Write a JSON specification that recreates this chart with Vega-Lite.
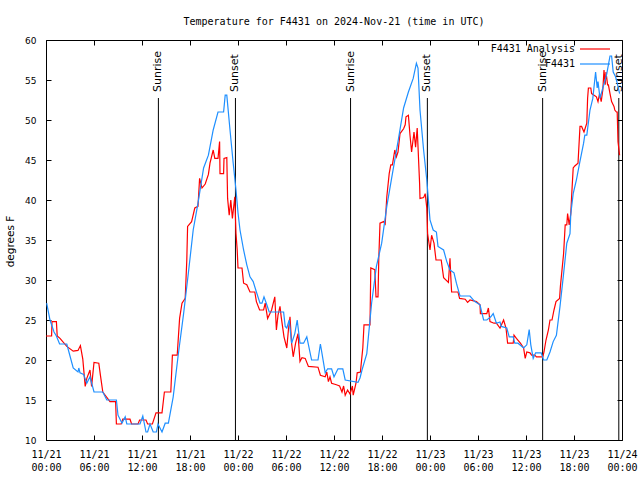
{
  "$schema": "https://vega.github.io/schema/vega-lite/v6.json",
  "width": 576,
  "height": 400,
  "autosize": "none",
  "padding": {"left": 46, "top": 40, "right": 18, "bottom": 40},
  "background": "white",
  "title": {"text": "Temperature for F4431 on 2024-Nov-21 (time in UTC)", "font": "DejaVu Sans Mono", "fontSize": 10, "fontWeight": "normal", "color": "black", "anchor": "middle", "offset": 9},
  "config": {
    "view": {"stroke": "black", "strokeWidth": 1},
    "axis": {"domain": false, "grid": false, "tickColor": "black", "tickWidth": 1, "tickSize": -5, "labelColor": "black", "titleColor": "black"}
  },
  "datasets": {
    "sun": [
      {"h": 14.05, "e": "Sunrise"}, {"h": 23.68, "e": "Sunset"},
      {"h": 38.07, "e": "Sunrise"}, {"h": 47.67, "e": "Sunset"},
      {"h": 62.08, "e": "Sunrise"}, {"h": 71.6, "e": "Sunset"}
    ],
    "analysis": [
      {"h":0.0,"t":23},{"h":0.7,"t":23},{"h":0.75,"t":24.8},{"h":1.3,"t":24.8},{"h":1.4,"t":23},{"h":1.75,"t":22.7},{"h":2.6,"t":21.7},{"h":3.4,"t":21.1},{"h":4.0,"t":21.2},{"h":4.3,"t":21.8},{"h":4.6,"t":20.1},{"h":4.9,"t":16.7},{"h":5.1,"t":17.7},{"h":5.5,"t":18.75},{"h":5.7,"t":16.7},{"h":6.0,"t":19.7},{"h":6.6,"t":19.6},{"h":6.8,"t":18.1},{"h":7.1,"t":16},{"h":8.0,"t":14.8},{"h":8.7,"t":14.8},{"h":8.8,"t":12},{"h":9.4,"t":12},{"h":9.6,"t":12.6},{"h":10.5,"t":12.6},{"h":10.7,"t":12},{"h":11.5,"t":12},{"h":11.7,"t":12.5},{"h":12.5,"t":12.5},{"h":12.7,"t":12},{"h":13.3,"t":12},{"h":13.75,"t":13.4},{"h":14.5,"t":13.4},{"h":14.8,"t":16},{"h":15.6,"t":16},{"h":15.8,"t":20.6},{"h":16.4,"t":20.6},{"h":16.7,"t":25.2},{"h":17.0,"t":27.1},{"h":17.4,"t":27.7},{"h":17.6,"t":32.5},{"h":17.7,"t":36.7},{"h":18.2,"t":37.3},{"h":18.6,"t":39},{"h":19.0,"t":39.2},{"h":19.2,"t":42.7},{"h":19.5,"t":41.5},{"h":19.9,"t":42},{"h":20.3,"t":43.2},{"h":20.5,"t":44.6},{"h":20.9,"t":46.25},{"h":21.1,"t":45.2},{"h":21.5,"t":45.2},{"h":21.7,"t":47.3},{"h":21.75,"t":43.3},{"h":22.2,"t":43.3},{"h":22.25,"t":45.2},{"h":22.6,"t":45.3},{"h":22.7,"t":40.2},{"h":22.9,"t":38.1},{"h":23.1,"t":40},{"h":23.3,"t":37.7},{"h":23.6,"t":40.4},{"h":23.75,"t":35.8},{"h":23.9,"t":33.75},{"h":24.0,"t":31.5},{"h":24.5,"t":31.5},{"h":24.7,"t":29.6},{"h":25.1,"t":29.4},{"h":25.5,"t":28.5},{"h":26.1,"t":28.5},{"h":26.3,"t":27.3},{"h":26.7,"t":26.25},{"h":27.2,"t":26.25},{"h":27.4,"t":27.1},{"h":27.7,"t":25.2},{"h":28.2,"t":26.25},{"h":28.6,"t":27.9},{"h":28.8,"t":23.75},{"h":29.0,"t":25.6},{"h":29.25,"t":26.7},{"h":29.4,"t":25.4},{"h":29.75,"t":22.9},{"h":30.1,"t":21.5},{"h":30.3,"t":23.75},{"h":30.5,"t":25.4},{"h":30.7,"t":22.1},{"h":30.9,"t":20.4},{"h":31.2,"t":22.1},{"h":31.5,"t":23.3},{"h":31.75,"t":19.8},{"h":32.0,"t":20.3},{"h":32.4,"t":20.2},{"h":32.8,"t":19.2},{"h":34.0,"t":19.1},{"h":34.3,"t":18.1},{"h":34.9,"t":17.9},{"h":35.1,"t":18.5},{"h":35.3,"t":17.3},{"h":35.5,"t":17.9},{"h":35.7,"t":17.1},{"h":36.3,"t":16.9},{"h":36.7,"t":16.75},{"h":37.0,"t":16},{"h":37.2,"t":16.75},{"h":37.4,"t":15.6},{"h":37.7,"t":16.25},{"h":38.0,"t":15.75},{"h":38.3,"t":16.75},{"h":38.4,"t":15.6},{"h":38.75,"t":17.1},{"h":38.9,"t":18.4},{"h":39.3,"t":18.5},{"h":39.6,"t":21.5},{"h":39.75,"t":24.4},{"h":40.5,"t":24.4},{"h":40.6,"t":31.5},{"h":41.1,"t":31.3},{"h":41.25,"t":27.9},{"h":41.5,"t":27.9},{"h":41.6,"t":32.7},{"h":41.75,"t":37.1},{"h":42.2,"t":37.3},{"h":42.4,"t":37},{"h":42.6,"t":40.4},{"h":42.9,"t":43.3},{"h":43.1,"t":44.4},{"h":43.3,"t":44.4},{"h":43.6,"t":46.25},{"h":43.8,"t":45.4},{"h":44.0,"t":46},{"h":44.25,"t":48.3},{"h":44.7,"t":48.9},{"h":44.9,"t":49.4},{"h":45.0,"t":50.4},{"h":45.3,"t":50.6},{"h":45.5,"t":48.1},{"h":45.7,"t":46},{"h":46.0,"t":48.5},{"h":46.2,"t":46.6},{"h":46.4,"t":49},{"h":46.7,"t":42.1},{"h":46.75,"t":40.2},{"h":47.2,"t":40.3},{"h":47.4,"t":40.8},{"h":47.6,"t":39},{"h":47.7,"t":35.8},{"h":48.0,"t":33.75},{"h":48.2,"t":35.6},{"h":48.5,"t":34.6},{"h":48.75,"t":32.5},{"h":49.4,"t":32.5},{"h":49.7,"t":30.3},{"h":50.3,"t":29.7},{"h":50.5,"t":32.7},{"h":50.6,"t":30.4},{"h":50.7,"t":28.5},{"h":51.5,"t":28.5},{"h":51.7,"t":27.7},{"h":52.4,"t":27.6},{"h":52.7,"t":27.2},{"h":53.0,"t":27.5},{"h":53.8,"t":27.3},{"h":54.25,"t":26.9},{"h":54.3,"t":25.8},{"h":55.1,"t":25.8},{"h":55.3,"t":26.5},{"h":55.5,"t":24.8},{"h":56.0,"t":24.6},{"h":56.3,"t":24.6},{"h":56.75,"t":24},{"h":57.2,"t":25},{"h":57.5,"t":24},{"h":57.7,"t":22.1},{"h":58.4,"t":22.1},{"h":58.5,"t":23.1},{"h":58.8,"t":22.7},{"h":59.3,"t":22.1},{"h":59.7,"t":21.5},{"h":59.9,"t":20.2},{"h":60.1,"t":21},{"h":60.5,"t":20.9},{"h":60.7,"t":20.6},{"h":61.1,"t":20.6},{"h":61.3,"t":20.4},{"h":62.1,"t":20.4},{"h":62.25,"t":21},{"h":62.5,"t":22.5},{"h":62.8,"t":23.75},{"h":63.0,"t":25},{"h":63.25,"t":25},{"h":63.5,"t":26.25},{"h":63.75,"t":27.3},{"h":64.2,"t":27.7},{"h":64.3,"t":29.2},{"h":64.7,"t":33.3},{"h":64.9,"t":36.9},{"h":65.1,"t":36.9},{"h":65.2,"t":38.3},{"h":65.4,"t":36.9},{"h":65.6,"t":38.3},{"h":65.7,"t":40.4},{"h":65.9,"t":44},{"h":66.1,"t":44.25},{"h":66.5,"t":44.6},{"h":66.75,"t":49.2},{"h":66.95,"t":49.2},{"h":67.25,"t":48.5},{"h":67.6,"t":49.6},{"h":67.7,"t":52.7},{"h":67.8,"t":54},{"h":68.1,"t":54},{"h":68.2,"t":53.3},{"h":68.8,"t":52.9},{"h":69.0,"t":52.3},{"h":69.2,"t":53.3},{"h":69.4,"t":52.3},{"h":69.6,"t":53.75},{"h":69.75,"t":56.25},{"h":69.9,"t":54.4},{"h":70.0,"t":56},{"h":70.2,"t":54.4},{"h":70.3,"t":54.4},{"h":70.5,"t":53.3},{"h":70.7,"t":52.3},{"h":71.0,"t":51.7},{"h":71.1,"t":51.25},{"h":71.3,"t":51},{"h":71.4,"t":51},{"h":71.5,"t":47.3},{"h":71.7,"t":45.6}
    ],
    "obs": [
      {"h":0.08,"t":27.1},{"h":0.5,"t":25},{"h":1.0,"t":23.5},{"h":1.3,"t":23},{"h":1.7,"t":22},{"h":2.6,"t":22},{"h":3.0,"t":20.5},{"h":3.4,"t":19},{"h":4.0,"t":18.5},{"h":4.1,"t":19},{"h":4.25,"t":18.4},{"h":4.7,"t":18.2},{"h":5.1,"t":17.1},{"h":5.5,"t":17.9},{"h":6.0,"t":16},{"h":7.1,"t":16},{"h":7.6,"t":15},{"h":8.8,"t":15},{"h":9.0,"t":13.1},{"h":9.5,"t":12.1},{"h":9.9,"t":12.9},{"h":10.1,"t":12},{"h":11.75,"t":12},{"h":12.1,"t":13},{"h":12.5,"t":11},{"h":12.7,"t":11},{"h":13.0,"t":12},{"h":13.4,"t":11},{"h":13.8,"t":11},{"h":14.0,"t":12},{"h":14.5,"t":11},{"h":14.9,"t":12.1},{"h":15.3,"t":12.1},{"h":15.9,"t":15.4},{"h":16.5,"t":20.4},{"h":17.2,"t":25.8},{"h":17.8,"t":30.9},{"h":18.4,"t":36.25},{"h":19.0,"t":39.6},{"h":19.7,"t":44},{"h":20.3,"t":45.6},{"h":20.9,"t":48.75},{"h":21.5,"t":51},{"h":22.2,"t":51},{"h":22.4,"t":53.1},{"h":22.6,"t":53.1},{"h":23.0,"t":48.75},{"h":23.4,"t":44.6},{"h":23.75,"t":41.25},{"h":24.0,"t":38.4},{"h":24.25,"t":36.25},{"h":24.7,"t":33.75},{"h":25.1,"t":31.9},{"h":25.5,"t":30.4},{"h":25.9,"t":29.8},{"h":26.3,"t":28.5},{"h":26.75,"t":27.1},{"h":27.0,"t":27.1},{"h":27.25,"t":27.9},{"h":27.6,"t":26.9},{"h":27.9,"t":26},{"h":29.7,"t":26},{"h":29.9,"t":24.2},{"h":30.1,"t":24},{"h":30.4,"t":25},{"h":30.7,"t":22.1},{"h":31.1,"t":23.3},{"h":31.4,"t":25},{"h":31.75,"t":22.1},{"h":32.2,"t":22.1},{"h":32.6,"t":22.9},{"h":33.2,"t":20},{"h":34.0,"t":20},{"h":34.3,"t":22},{"h":34.7,"t":19.6},{"h":34.9,"t":18.4},{"h":35.2,"t":18.9},{"h":35.7,"t":18.9},{"h":36.0,"t":17.9},{"h":36.5,"t":18.9},{"h":37.1,"t":18.9},{"h":37.4,"t":17.5},{"h":39.0,"t":17.2},{"h":39.25,"t":17.75},{"h":39.5,"t":18.75},{"h":40.1,"t":20.8},{"h":40.7,"t":27.1},{"h":41.3,"t":31.7},{"h":41.96,"t":34.6},{"h":42.6,"t":39.2},{"h":43.2,"t":42.7},{"h":44.0,"t":47.3},{"h":44.7,"t":51.5},{"h":45.3,"t":53.5},{"h":45.9,"t":55.2},{"h":46.3,"t":57.1},{"h":46.5,"t":56.5},{"h":46.75,"t":51.25},{"h":47.2,"t":46.25},{"h":47.6,"t":42.5},{"h":48.0,"t":37.5},{"h":48.4,"t":36.25},{"h":48.8,"t":36},{"h":49.0,"t":34.2},{"h":49.7,"t":33.75},{"h":50.1,"t":32.3},{"h":50.5,"t":31.25},{"h":51.0,"t":30.9},{"h":51.3,"t":29.6},{"h":51.75,"t":28},{"h":53.0,"t":28},{"h":53.6,"t":27.3},{"h":54.25,"t":26.9},{"h":54.7,"t":25},{"h":55.1,"t":25},{"h":55.6,"t":25.4},{"h":55.9,"t":25.8},{"h":56.3,"t":24.6},{"h":56.75,"t":24.75},{"h":56.9,"t":24.2},{"h":57.6,"t":24},{"h":57.9,"t":22.9},{"h":58.4,"t":22.9},{"h":58.6,"t":22.1},{"h":59.0,"t":22.1},{"h":59.7,"t":21.5},{"h":60.1,"t":21.9},{"h":60.4,"t":23.8},{"h":60.6,"t":21.9},{"h":60.9,"t":20.2},{"h":61.2,"t":20.9},{"h":61.9,"t":20.9},{"h":62.2,"t":20},{"h":62.6,"t":20},{"h":63.0,"t":21},{"h":63.4,"t":22.3},{"h":63.8,"t":23.1},{"h":64.25,"t":26.7},{"h":64.7,"t":30.8},{"h":65.1,"t":34.6},{"h":65.5,"t":35.8},{"h":65.6,"t":38.3},{"h":65.9,"t":40.8},{"h":66.3,"t":42.5},{"h":66.7,"t":44.6},{"h":67.2,"t":47.1},{"h":67.35,"t":48.1},{"h":67.6,"t":48.1},{"h":68.0,"t":51.25},{"h":68.35,"t":52.7},{"h":68.7,"t":56},{"h":68.9,"t":54},{"h":69.0,"t":54.8},{"h":69.25,"t":52.7},{"h":69.6,"t":54},{"h":69.9,"t":55},{"h":70.1,"t":55.8},{"h":70.5,"t":58},{"h":70.7,"t":58},{"h":70.9,"t":56},{"h":71.2,"t":55.4},{"h":71.5,"t":54.2},{"h":71.7,"t":53.3}
    ]
  },
  "layer": [
    {
      "data": {"name": "sun"},
      "mark": {"type": "rule", "color": "black", "strokeWidth": 1},
      "encoding": {
        "x": {"field": "h", "type": "quantitative", "scale": {"domain": [0, 72], "nice": false, "zero": false},
              "axis": {"orient": "top", "labels": false, "title": null, "values": [0,6,12,18,24,30,36,42,48,54,60,66,72]}},
        "y": {"datum": 52.75, "type": "quantitative", "scale": {"domain": [10, 60], "nice": false, "zero": false},
              "axis": {"orient": "right", "labels": false, "title": null, "values": [10,15,20,25,30,35,40,45,50,55,60]}},
        "y2": {"datum": 10}
      }
    },
    {
      "data": {"name": "sun"},
      "mark": {"type": "text", "angle": 270, "align": "left", "baseline": "middle", "font": "DejaVu Sans", "fontSize": 11, "color": "black"},
      "encoding": {
        "x": {"field": "h", "type": "quantitative", "axis": null},
        "y": {"datum": 53.5, "type": "quantitative", "axis": null},
        "text": {"field": "e"}
      }
    },
    {
      "data": {"name": "analysis"},
      "mark": {"type": "line", "strokeWidth": 1.2},
      "encoding": {
        "x": {"field": "h", "type": "quantitative",
              "axis": {"orient": "bottom", "title": null, "values": [0,6,12,18,24,30,36,42,48,54,60,66,72],
                       "labelExpr": "['11/' + (21 + floor(datum.value / 24)), (datum.value % 24 < 10 ? '0' : '') + (datum.value % 24) + ':00']",
                       "labelFont": "DejaVu Sans Mono", "labelFontSize": 10, "labelPadding": 14, "labelLineHeight": 13, "labelFlush": false, "labelOverlap": false}},
        "y": {"field": "t", "type": "quantitative",
              "axis": {"orient": "left", "title": "degrees F", "values": [10,15,20,25,30,35,40,45,50,55,60],
                       "labelFont": "DejaVu Sans", "labelFontSize": 9, "labelPadding": 15,
                       "titleFont": "DejaVu Sans", "titleFontSize": 10.5, "titleFontWeight": "normal",
                       "titleAngle": 270, "titleBaseline": "middle", "titleAlign": "center", "titleX": -36, "titleY": 201}},
        "color": {"datum": "F4431 Analysis", "type": "nominal",
                  "scale": {"domain": ["F4431 Analysis", "F4431"], "range": ["#ff0000", "#1e8fff"]},
                  "legend": {"orient": "none", "legendX": 543, "legendY": 3, "title": null, "symbolType": "M-3,0H3", "symbolSize": 100, "symbolStrokeWidth": 1.2, "symbolFillColor": "transparent",
                             "labelFont": "DejaVu Sans Mono", "labelFontSize": 10, "labelColor": "black", "labelAlign": "right", "labelOffset": -26, "rowPadding": 4, "padding": 0}}
      }
    },
    {
      "data": {"name": "obs"},
      "mark": {"type": "line", "strokeWidth": 1.2},
      "encoding": {
        "x": {"field": "h", "type": "quantitative", "axis": null},
        "y": {"field": "t", "type": "quantitative", "axis": null},
        "color": {"datum": "F4431", "type": "nominal"}
      }
    }
  ]
}
